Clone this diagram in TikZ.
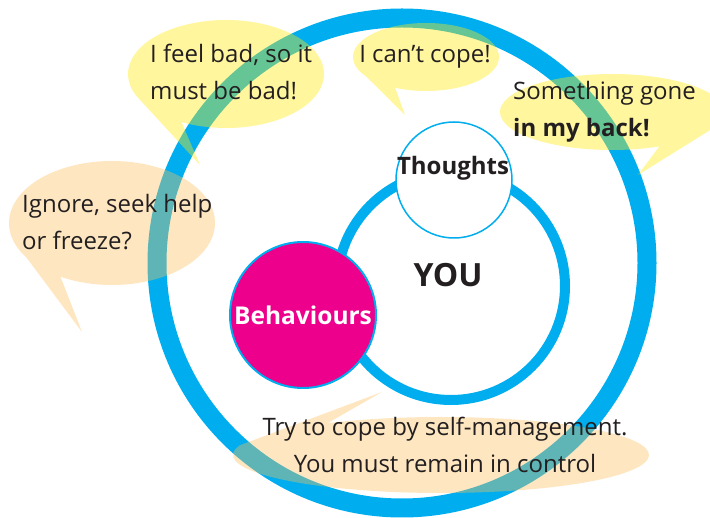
\documentclass[tikz,border=0pt]{standalone}
\usepackage{fontspec}
\setmainfont{Open Sans}
\usepackage{xcolor}

\definecolor{anillo}{RGB}{0,174,239}
\definecolor{rosa}{RGB}{236,0,140}
\definecolor{amarillo}{RGB}{255,232,12}
\definecolor{naranja}{RGB}{250,190,90}
\definecolor{tinta}{RGB}{35,31,32}

\tikzset{
  texto/.style={text=tinta, inner sep=0pt, font=\fontsize{24}{37}\selectfont},
  negrita/.style={text=tinta, inner sep=0pt, font=\fontsize{24}{37}\selectfont\bfseries},
  globoam/.style={fill=amarillo, fill opacity=0.4},
  globona/.style={fill=naranja, fill opacity=0.38},
}

\begin{document}
\begin{tikzpicture}[x=1pt, y=-1pt]
  \useasboundingbox (0,0) rectangle (710,518);

  % Anillo exterior
  \draw[anillo, line width=19pt] (402,263) circle[radius=245];

  % Circulo central
  \draw[anillo, line width=10pt, fill=white] (451,286) circle[radius=114];
  \node[negrita, font=\fontsize{32}{32}\selectfont\bfseries, anchor=base] (you) at (448,287) {YOU};

  % Pensamientos y conductas
  \node[circle, draw=anillo, line width=1.5pt, fill=white, minimum size=116pt, inner sep=0pt] (thoughts) at (454,180) {};
  \node[negrita, anchor=base] (thoughtstxt) at (453,175) {Thoughts};
  \node[circle, draw=anillo, line width=2pt, fill=rosa, minimum size=146pt, inner sep=0pt,
        negrita, font=\fontsize{24.5}{30}\selectfont\bfseries, text=white] (behaviours) at (303,315) {Behaviours};

  % Globos
  \fill[globoam] (226,74) ++(155:98 and 54) arc[start angle=155, end angle=477, x radius=98, y radius=54] -- (200,165) -- cycle;
  \fill[globoam] (426,57) ++(145:73 and 34) arc[start angle=145, end angle=475, x radius=73, y radius=34] -- (405,115) -- cycle;
  \fill[globoam] (612,112) ++(65:112 and 38) arc[start angle=65, end angle=384, x radius=112, y radius=38] -- (638,175) -- cycle;
  \fill[globona] (112,223) ++(146:103 and 62) arc[start angle=146, end angle=480, x radius=103, y radius=62] -- (82,332) -- cycle;
  \fill[globona] (441,455) ++(237:208 and 38) arc[start angle=237, end angle=555, x radius=208, y radius=38] -- (382,392) -- cycle;

  % Textos de los globos
  \node[texto, align=left, anchor=west] (feelbad) at (150,72) {I feel bad, so it\\must be bad!};
  \node[texto, anchor=base] (cope) at (425,63) {I can’t cope!};
  \node[texto, align=left, anchor=west] (gone) at (513,112) {Something gone\\\textbf{in my back!}};
  \node[texto, align=left, anchor=west] (ignore) at (22,222) {Ignore, seek help\\or freeze?};
  \node[texto, align=center] (control) at (445,445) {Try to cope by self-management.\\You must remain in control};
\end{tikzpicture}
\end{document}
